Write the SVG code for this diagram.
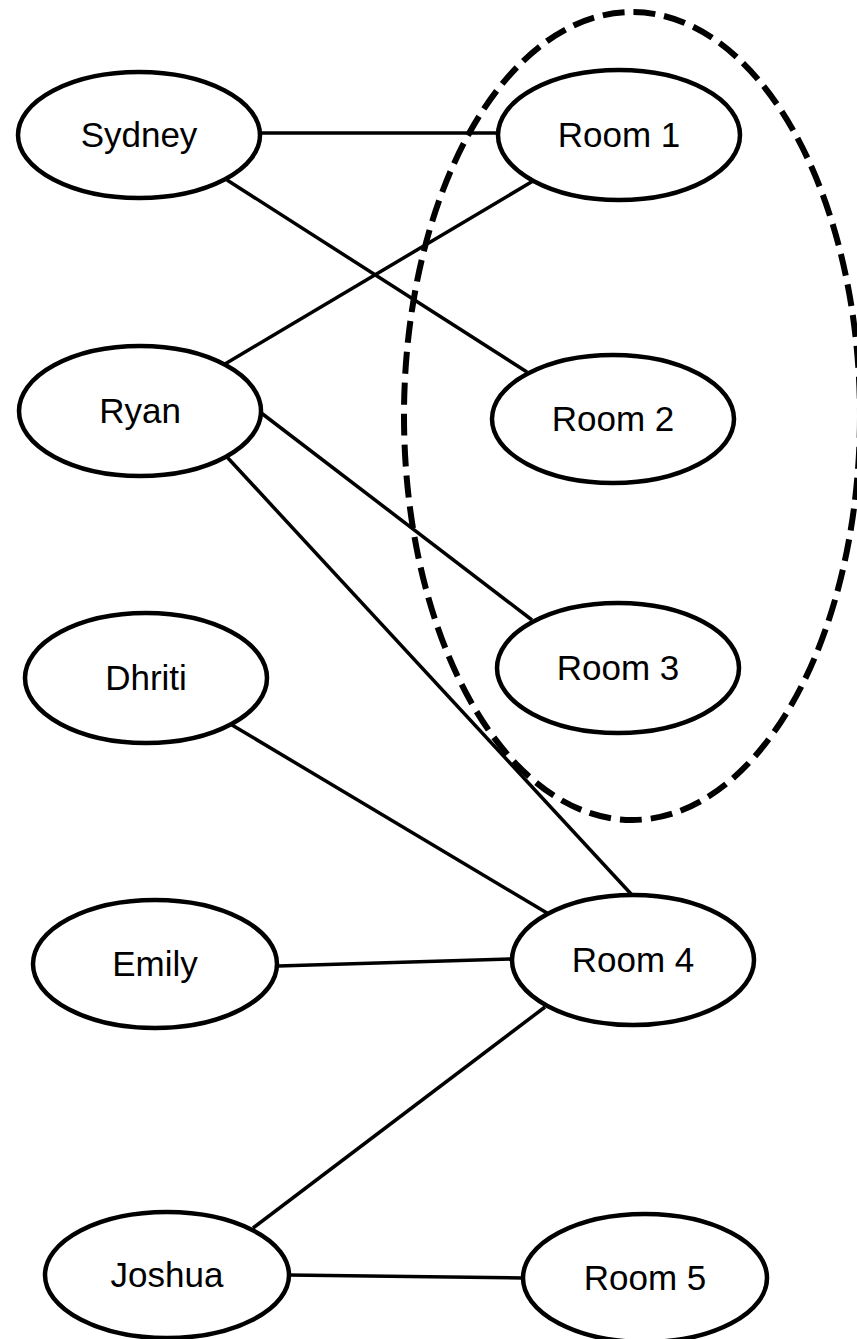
<svg xmlns="http://www.w3.org/2000/svg" width="857" height="1339" viewBox="0 0 857 1339">
  <style>
    .node ellipse { fill: #ffffff; stroke: #000000; stroke-width: 4.5; }
    .node text { font-family: "Liberation Sans", Arial, sans-serif; font-size: 35px; fill: #000000; text-anchor: middle; }
    .edge { stroke: #000000; stroke-width: 3.5; fill: none; }
    .group { fill: none; stroke: #000000; stroke-width: 6; stroke-dasharray: 22 9; }
  </style>
  <rect x="0" y="0" width="857" height="1339" fill="#ffffff"/>

  <!-- dashed grouping around rooms 1-3 -->
  <ellipse id="room-group" class="group" cx="632" cy="416" rx="228" ry="404"/>

  <!-- connectors -->
  <g id="connectors">
    <line class="edge" x1="260" y1="133" x2="498" y2="133"/>
    <line class="edge" x1="227" y1="180" x2="527" y2="372"/>
    <line class="edge" x1="225" y1="364" x2="533" y2="181"/>
    <line class="edge" x1="260" y1="412" x2="532" y2="620"/>
    <line class="edge" x1="227" y1="457" x2="632" y2="895"/>
    <line class="edge" x1="232" y1="725" x2="547" y2="913"/>
    <line class="edge" x1="278" y1="966" x2="512" y2="959"/>
    <line class="edge" x1="253" y1="1228" x2="545" y2="1007"/>
    <line class="edge" x1="288" y1="1275" x2="523" y2="1278"/>
  </g>

  <!-- people -->
  <g id="sydney" class="node">
    <ellipse cx="139" cy="135" rx="121" ry="63"/>
    <text x="139" y="147">Sydney</text>
  </g>
  <g id="ryan" class="node">
    <ellipse cx="140" cy="411" rx="121" ry="65"/>
    <text x="140" y="423">Ryan</text>
  </g>
  <g id="dhriti" class="node">
    <ellipse cx="146" cy="678" rx="121" ry="65"/>
    <text x="146" y="690">Dhriti</text>
  </g>
  <g id="emily" class="node">
    <ellipse cx="155" cy="964" rx="122" ry="64"/>
    <text x="155" y="976">Emily</text>
  </g>
  <g id="joshua" class="node">
    <ellipse cx="167" cy="1275" rx="122" ry="63"/>
    <text x="167" y="1287">Joshua</text>
  </g>

  <!-- rooms -->
  <g id="room1" class="node">
    <ellipse cx="619" cy="135" rx="121" ry="65"/>
    <text x="619" y="147">Room 1</text>
  </g>
  <g id="room2" class="node">
    <ellipse cx="613" cy="419" rx="121" ry="64"/>
    <text x="613" y="431">Room 2</text>
  </g>
  <g id="room3" class="node">
    <ellipse cx="618" cy="668" rx="121" ry="65"/>
    <text x="618" y="680">Room 3</text>
  </g>
  <g id="room4" class="node">
    <ellipse cx="633" cy="960" rx="121" ry="65"/>
    <text x="633" y="972">Room 4</text>
  </g>
  <g id="room5" class="node">
    <ellipse cx="645" cy="1278" rx="122" ry="64"/>
    <text x="645" y="1290">Room 5</text>
  </g>
</svg>
